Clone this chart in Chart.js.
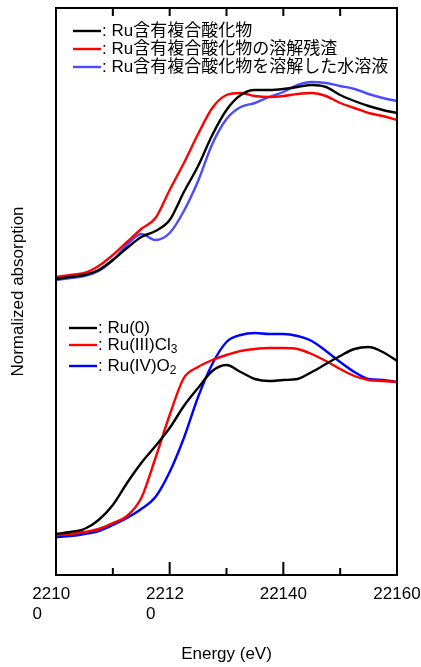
<!DOCTYPE html>
<html>
<head>
<meta charset="utf-8">
<script src="https://cdn.jsdelivr.net/npm/chart.js@4.4.1/dist/chart.umd.min.js"></script>
<style>
  html, body { margin: 0; padding: 0; background: #fff; }
  canvas { display: block; }
</style>
</head>
<body>
<canvas id="xanes" width="421" height="667"></canvas>
<script>
// Energie (eV) - grade comum a todos os espectros
const energy = [22100, 22102.5, 22105, 22107.5, 22110, 22112.5, 22115, 22117.5, 22120,
  22122.5, 22125, 22127.5, 22130, 22132.5, 22135, 22137.5, 22140, 22142.5, 22145,
  22147.5, 22150, 22152.5, 22155, 22157.5, 22160];

// Espectros de cima (amostras)
const upperBlack = [2.96, 2.98, 3.00, 3.05, 3.15, 3.27, 3.38, 3.44, 3.55, 3.83, 4.09, 4.40, 4.65,
  4.80, 4.85, 4.85, 4.86, 4.88, 4.90, 4.88, 4.80, 4.74, 4.69, 4.65, 4.62];
const upperRed = [2.98, 3.00, 3.02, 3.09, 3.20, 3.33, 3.46, 3.57, 3.85, 4.12, 4.41, 4.67, 4.80,
  4.82, 4.79, 4.78, 4.79, 4.81, 4.82, 4.79, 4.72, 4.67, 4.62, 4.59, 4.55];
const upperBlue = [2.95, 2.97, 2.99, 3.04, 3.15, 3.30, 3.41, 3.35, 3.42, 3.64, 3.94, 4.31, 4.56,
  4.68, 4.72, 4.78, 4.83, 4.90, 4.93, 4.92, 4.89, 4.86, 4.81, 4.77, 4.74];

// Espectros de baixo (referencias)
const lowerBlack = [0.41, 0.43, 0.46, 0.55, 0.70, 0.92, 1.12, 1.29, 1.47, 1.69, 1.87, 2.04, 2.10,
  2.03, 1.96, 1.94, 1.95, 1.96, 2.03, 2.11, 2.19, 2.26, 2.28, 2.23, 2.14];
const lowerRed = [0.40, 0.41, 0.43, 0.46, 0.52, 0.59, 0.77, 1.17, 1.60, 1.97, 2.08, 2.15, 2.20,
  2.24, 2.26, 2.27, 2.27, 2.26, 2.21, 2.14, 2.06, 1.99, 1.95, 1.94, 1.93];
const lowerBlue = [0.38, 0.39, 0.41, 0.44, 0.50, 0.57, 0.66, 0.78, 1.03, 1.37, 1.78, 2.11, 2.33,
  2.40, 2.42, 2.41, 2.41, 2.39, 2.34, 2.24, 2.13, 2.03, 1.96, 1.95, 1.93];

const upperLabels = ['Ru含有複合酸化物', 'Ru含有複合酸化物の溶解残渣', 'Ru含有複合酸化物を溶解した水溶液'];
const lowerLabels = ['Ru(0)', 'Ru(III)Cl_3', 'Ru(IV)O_2'];   // "_" = subscrito

const xTickValues = [22100, 22120, 22140, 22160];
const xTickLabels = [['2210', '0'], ['2212', '0'], '22140', '22160'];

const FONT = '"Liberation Sans", Arial, "Noto Sans CJK JP", sans-serif';
Chart.defaults.font.family = FONT;
Chart.defaults.font.size = 17;
Chart.defaults.color = '#000';

// rótulo quebrado alinhado à esquerda (espaço = meio dígito)
function leftAlign(lines) {
  if (!Array.isArray(lines)) return lines;
  const total = lines.join('').length;
  return lines.map(l => l + ' '.repeat((total - l.length) * 2));
}

function mkSet(label, data, color, group) {
  return {
    label, group,
    data: data.map((y, i) => ({ x: energy[i], y })),
    borderColor: color,
    borderWidth: 2.4,
    pointRadius: 0,
    fill: false,
    cubicInterpolationMode: 'monotone'
  };
}

// moldura com ticks para dentro
const frameTicks = {
  id: 'frameTicks',
  afterDatasetsDraw(chart) {
    const { ctx, chartArea: a, scales: { x } } = chart;
    ctx.save();
    ctx.strokeStyle = '#000';
    ctx.lineWidth = 2;
    ctx.strokeRect(a.left, a.top, a.right - a.left, a.bottom - a.top);
    ctx.beginPath();
    for (let e = x.min; e <= x.max; e += 10) {
      const px = x.getPixelForValue(e);
      const major = xTickValues.includes(e);
      ctx.moveTo(px, a.bottom);
      ctx.lineTo(px, a.bottom - (major ? 13 : 7));
      if (e > x.min && e < x.max) {
        ctx.moveTo(px, a.top);
        ctx.lineTo(px, a.top + 8);
      }
    }
    ctx.stroke();
    ctx.restore();
  }
};

// duas legendas (amostras em cima, referências em baixo)
const twoLegends = {
  id: 'twoLegends',
  afterDraw(chart, args, opts) {
    const ctx = chart.ctx;
    ctx.save();
    opts.groups.forEach(g => {
      chart.data.datasets.filter(d => d.group === g.name).forEach((d, i) => {
        const y = g.rows[i];
        ctx.strokeStyle = d.borderColor;
        ctx.lineWidth = 2.4;
        ctx.beginPath();
        ctx.moveTo(g.x0, y);
        ctx.lineTo(g.x1, y);
        ctx.stroke();

        ctx.fillStyle = '#000';
        ctx.textBaseline = 'middle';
        ctx.textAlign = 'left';
        let tx = g.x1 + 1;
        const parts = (': ' + d.label).split('_');
        parts.forEach((p, k) => {
          if (k === 0) {
            ctx.font = '17px ' + FONT;
            ctx.fillText(p, tx, y);
            tx += ctx.measureText(p).width;
          } else {
            ctx.font = '12px ' + FONT;
            ctx.fillText(p[0], tx, y + 5);
            tx += ctx.measureText(p[0]).width;
            ctx.font = '17px ' + FONT;
            ctx.fillText(p.slice(1), tx, y);
            tx += ctx.measureText(p.slice(1)).width;
          }
        });
      });
    });
    ctx.restore();
  }
};

new Chart(document.getElementById('xanes'), {
  type: 'line',
  data: {
    datasets: [
      mkSet(upperLabels[0], upperBlack, '#000000', 'upper'),
      mkSet(upperLabels[1], upperRed, '#ff0000', 'upper'),
      mkSet(upperLabels[2], upperBlue, '#4b4bff', 'upper'),
      mkSet(lowerLabels[0], lowerBlack, '#000000', 'lower'),
      mkSet(lowerLabels[1], lowerRed, '#ff0000', 'lower'),
      mkSet(lowerLabels[2], lowerBlue, '#0000ff', 'lower')
    ]
  },
  options: {
    responsive: false,
    animation: false,
    devicePixelRatio: 1,
    layout: { padding: { top: 8, right: 24, left: 0, bottom: 0 } },
    plugins: {
      legend: { display: false },
      tooltip: { enabled: false },
      twoLegends: {
        groups: [
          { name: 'upper', x0: 73, x1: 101, rows: [31, 49, 67] },
          { name: 'lower', x0: 69, x1: 97, rows: [328, 345, 366] }
        ]
      }
    },
    scales: {
      x: {
        type: 'linear',
        min: 22100,
        max: 22160,
        grid: { display: false, drawTicks: false },
        border: { display: false },
        ticks: {
          stepSize: 20,
          maxRotation: 0,
          autoSkip: false,
          padding: 9,
          callback: v => {
            const i = xTickValues.indexOf(v);
            return i < 0 ? '' : leftAlign(xTickLabels[i]);
          }
        },
        title: { display: true, text: 'Energy (eV)', padding: { top: 0, bottom: 2 } },
        afterFit: s => { s.height = 92; s.paddingLeft = 0; s.paddingRight = 0; }
      },
      y: {
        min: 0,
        max: 5.67,
        grid: { display: false, drawTicks: false },
        border: { display: false },
        ticks: { display: false },
        title: { display: true, text: 'Normalized absorption', padding: { top: 8, bottom: 0 } },
        afterFit: s => { s.width = 56; }
      }
    }
  },
  plugins: [frameTicks, twoLegends]
});
</script>
</body>
</html>
